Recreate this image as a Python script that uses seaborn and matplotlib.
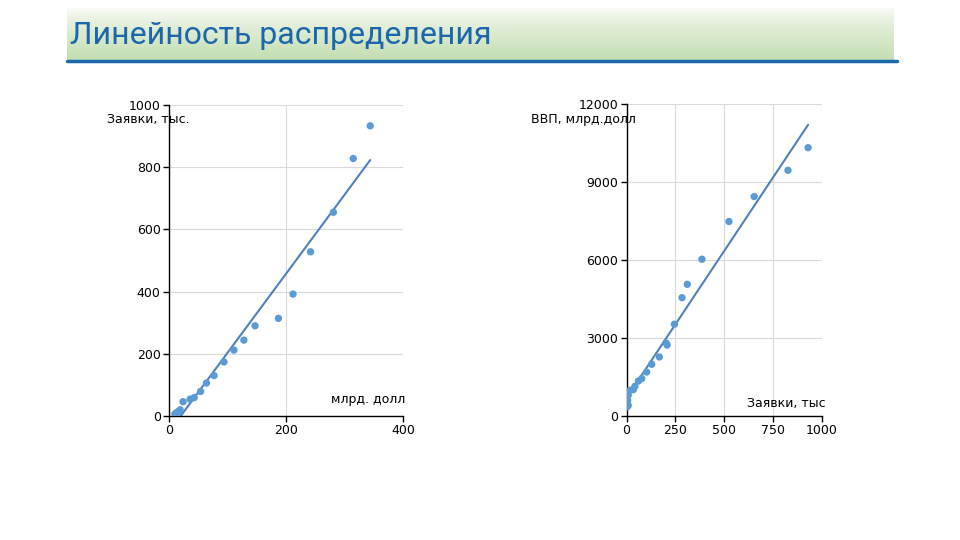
import numpy as np
import seaborn as sns
import matplotlib.pyplot as plt

sns.set_style("white")
plt.rcParams["font.family"] = ["DejaVu Sans"]

title = "Линейность распределения"

# left chart: spending (bn USD) vs applications (thousands)
left_spend = [344, 315, 281, 242, 212, 187, 147, 128, 111, 94, 77,
              64, 54, 43, 36, 24, 19, 16, 14, 12, 10]
left_apps = [933, 828, 655, 528, 392, 314, 290, 244, 212, 174, 130,
             106, 79, 59, 54, 46, 20, 14, 12, 9, 6]
left_xticks = [0, 200, 400]
left_yticks = [0, 200, 400, 600, 800, 1000]

# right chart: applications (thousands) vs GDP (bn USD)
right_apps = [929, 826, 653, 524, 386, 311, 284, 245, 202, 208, 168,
              129, 103, 78, 61, 43, 35, 18, 9, 6, 9, 3]
right_gdp = [10320, 9450, 8440, 7480, 6030, 5065, 4550, 3530, 2810, 2730,
             2270, 1990, 1690, 1440, 1345, 1140, 1015, 990, 800, 600, 410, 350]
right_xticks = [0, 250, 500, 750, 1000]
right_yticks = [0, 3000, 6000, 9000, 12000]

dot_color = "#5b9bd5"
line_color = "#4f81bd"

fig = plt.figure(figsize=(9.6, 5.4), dpi=100)

# title banner with a soft green gradient
banner = fig.add_axes([67 / 960, 1 - 60 / 540, (893 - 67) / 960, 52 / 540])
grad = np.linspace(0, 1, 100)[:, None]
top = np.array([250, 251, 246]) / 255
bottom = np.array([195, 222, 178]) / 255
img = top + (bottom - top) * grad[..., None] ** 0.8
banner.imshow(img, aspect="auto", extent=[0, 1, 0, 1])
banner.set_axis_off()
fig.add_artist(plt.Line2D([67 / 960, 897 / 960], [1 - 61 / 540] * 2,
                          color="#1a6aad", lw=2.5))
fig.text(70 / 960, 1 - 35 / 540, title, fontsize=23, color="#1b66ad",
         family=["Roboto", "DejaVu Sans"], va="center", ha="left")


def draw(ax, x, y, xticks, yticks):
    sns.regplot(x=np.array(x), y=np.array(y), ax=ax, ci=None, truncate=True,
                scatter_kws=dict(s=28, color=dot_color, edgecolor="none",
                                 alpha=1, zorder=3),
                line_kws=dict(color=line_color, lw=1.5, zorder=2))
    ax.set_xlim(xticks[0], xticks[-1])
    ax.set_ylim(yticks[0], yticks[-1])
    ax.set_xticks(xticks)
    ax.set_yticks(yticks)
    ax.grid(True, color="#d9d9d9", lw=0.8)
    ax.set_axisbelow(True)
    for s in ["top", "right"]:
        ax.spines[s].set_visible(False)
    for s in ["left", "bottom"]:
        ax.spines[s].set_color("black")
        ax.spines[s].set_linewidth(1.0)
    ax.tick_params(direction="out", length=4, width=1, color="black",
                   labelcolor="black", labelsize=9, left=True, bottom=True,
                   pad=2)


ax1 = fig.add_axes([169 / 960, 1 - 416 / 540, 234 / 960, 311 / 540])
draw(ax1, left_spend, left_apps, left_xticks, left_yticks)

ax2 = fig.add_axes([626.5 / 960, 1 - 416 / 540, 195.5 / 960, 312 / 540])
draw(ax2, right_apps, right_gdp, right_xticks, right_yticks)

label_style = dict(fontsize=9, ha="center", va="center", color="black")
fig.text(148 / 960, 1 - 119 / 540, "Заявки, тыс.", **label_style)
fig.text(368 / 960, 1 - 400 / 540, "млрд. долл", **label_style)
fig.text(583 / 960, 1 - 120 / 540, "ВВП, млрд.долл", **label_style)
fig.text(786 / 960, 1 - 403 / 540, "Заявки, тыс", **label_style)

fig.savefig("out.png", dpi=100)
